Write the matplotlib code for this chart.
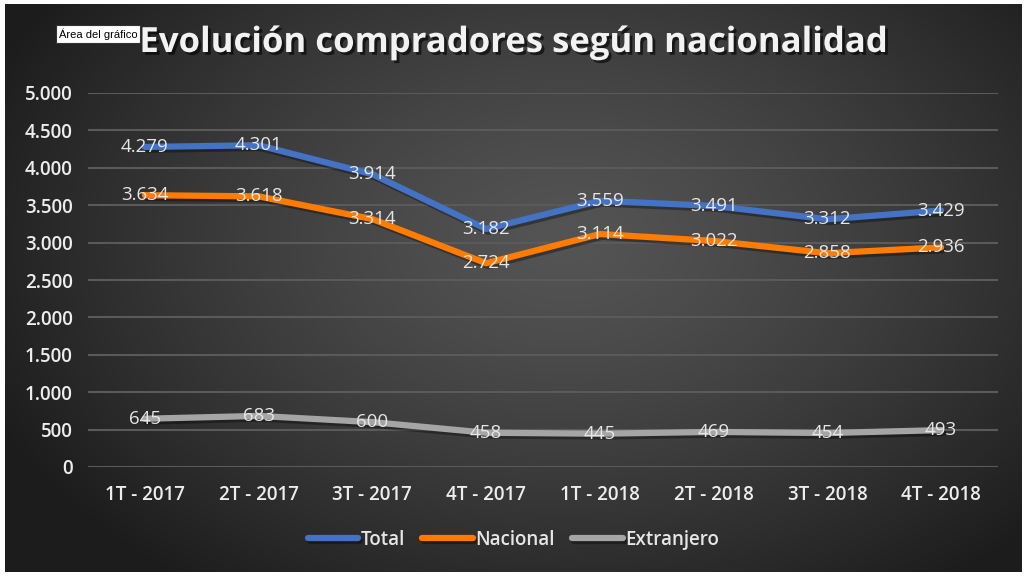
import numpy as np
import matplotlib
matplotlib.use("Agg")
import matplotlib.pyplot as plt
import matplotlib.patheffects as pe
from matplotlib.ticker import FuncFormatter

categories = ["1T - 2017", "2T - 2017", "3T - 2017", "4T - 2017",
              "1T - 2018", "2T - 2018", "3T - 2018", "4T - 2018"]
total = [4279, 4301, 3914, 3182, 3559, 3491, 3312, 3429]
nacional = [3634, 3618, 3314, 2724, 3114, 3022, 2858, 2936]
extranjero = [645, 683, 600, 458, 445, 469, 454, 493]

series = [("Total", total, "#4472C4"),
          ("Nacional", nacional, "#FF7C00"),
          ("Extranjero", extranjero, "#A5A5A5")]

plt.rcParams['font.family'] = ['Open Sans', 'DejaVu Sans']

fig = plt.figure(figsize=(10.27, 5.77), dpi=100)
fig.patch.set_facecolor("white")

# background gradient
bg = fig.add_axes([0.005, 0.008, 0.99, 0.985])
bg.set_axis_off()
h, w = 300, 540
yy, xx = np.mgrid[0:h, 0:w]
cx, cy = w * 0.55, h * 0.42
r = np.sqrt(((xx - cx) / (w * 0.62)) ** 2 + ((yy - cy) / (h * 0.75)) ** 2)
r = np.clip(r, 0, 1)
val = 0.33 - 0.22 * r ** 1.3
img = np.dstack([val, val, val])
bg.imshow(img, aspect="auto", extent=[0, 1, 0, 1], interpolation="bicubic")
bg.set_xlim(0, 1); bg.set_ylim(0, 1)

ax = fig.add_axes([88 / 1027, 1 - 467 / 577, 910 / 1027, 374 / 577])
ax.set_facecolor("none")
x = np.arange(len(categories))
ax.set_xlim(-0.5, len(categories) - 0.5)
ax.set_ylim(0, 5000)
ax.set_yticks(np.arange(0, 5001, 500))
ax.yaxis.set_major_formatter(FuncFormatter(lambda v, p: f"{int(v):,}".replace(",", ".")))
ax.grid(axis="y", color="#5a5a5a", lw=1.5)
ax.set_axisbelow(True)
for s in ax.spines.values():
    s.set_visible(False)
ax.tick_params(length=0, colors="#EDEDED", labelsize=13.5)
ax.tick_params(axis="y", pad=11)
ax.tick_params(axis="x", pad=13)
ax.set_xticks(x)
ax.set_xticklabels(categories)
for lbl in ax.get_xticklabels() + ax.get_yticklabels():
    lbl.set_fontweight("semibold")

shadow = [pe.SimpleLineShadow(offset=(1.5, -2), shadow_color="black", alpha=0.35), pe.Normal()]
handles = []
for name, vals, col in series:
    ln, = ax.plot(x, vals, color=col, lw=4.5, solid_joinstyle="round", solid_capstyle="round",
                  label=name, path_effects=shadow)
    handles.append(ln)
    for xi, v in zip(x, vals):
        ax.text(xi, v, f"{v:,}".replace(",", "."), ha="center", va="center",
                color="#E6E6E6", fontsize=13.5, zorder=5)

leg = fig.legend(handles=handles, loc="center", bbox_to_anchor=(0.5, 1 - 540 / 577), ncol=3,
                 frameon=False, fontsize=13.5, handlelength=2.7, columnspacing=0.9,
                 handletextpad=0.15)
for t in leg.get_texts():
    t.set_color("#E6E6E6")
    t.set_fontweight("semibold")

fig.text(0.5, 1 - 43 / 577, "Evolución compradores según nacionalidad", ha="center", va="center",
         color="#F2F2F2", fontsize=25, fontweight="bold",
         path_effects=[pe.withSimplePatchShadow(offset=(2, -2), shadow_rgbFace="black", alpha=0.6)])

fig.text(59 / 1027, 1 - 34 / 577, "Área del gráfico", ha="left", va="center", fontsize=8,
         color="black", family=["Liberation Sans", "DejaVu Sans"],
         bbox=dict(boxstyle="square,pad=0.25", facecolor="white", edgecolor="#333333", lw=0.8))

fig.savefig("out.png", dpi=100, facecolor=fig.get_facecolor())
